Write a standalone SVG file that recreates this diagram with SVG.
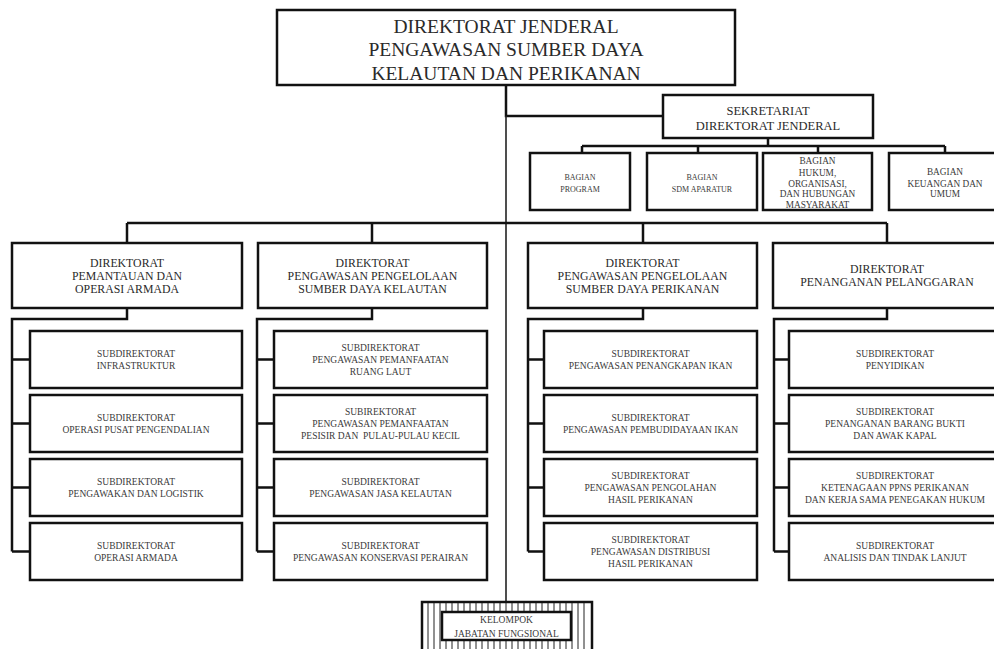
<svg xmlns="http://www.w3.org/2000/svg" width="994" height="649" viewBox="0 0 994 649">
<style>
.box{fill:#fff;stroke:#111;stroke-width:2.5}
.ln{fill:none;stroke:#111;stroke-width:2.5}
.thin{fill:none;stroke:#222;stroke-width:1.6}
text{font-family:"Liberation Serif","Times New Roman",serif;fill:#2a2a2a;text-anchor:middle}
.t1{font-size:19.5px}
.t2{font-size:12.5px}
.t3{font-size:11.8px}
.t4{font-size:9.5px;fill:#3a3a3a}
.t5{font-size:8px;fill:#3a3a3a}
.t6{font-size:9.3px;fill:#3a3a3a}
.hatch{stroke:#222;stroke-width:1}
</style>
<rect width="994" height="649" fill="#fff"/>
<g id="connectors">
<path class="ln" d="M506,85V116H663"/>
<path class="thin" d="M506,116V602"/>
<path class="ln" d="M768,138V146M582,146H945M582,146V153M698,146V153M818,146V153M945,146V153"/>
<path class="ln" d="M127,223H887M127,223V243M372,223V243M643,223V243M887,223V243"/>
<path class="ln" d="M127,308V319H12V551.5M12,359.5H30M12,423.5H30M12,487.5H30M12,551.5H30"/>
<path class="ln" d="M372,308V319H257V551.5M257,359.5H274M257,423.5H274M257,487.5H274M257,551.5H274"/>
<path class="ln" d="M643,308V319H528V551.5M528,359.5H544M528,423.5H544M528,487.5H544M528,551.5H544"/>
<path class="ln" d="M887,308V319H774V551.5M774,359.5H789M774,423.5H789M774,487.5H789M774,551.5H789"/>
</g>
<g id="dirjen">
<rect class="box" x="277" y="10" width="458" height="75" stroke-width="3"/>
<text class="t1" x="506" y="33">DIREKTORAT JENDERAL</text>
<text class="t1" x="506" y="56">PENGAWASAN SUMBER DAYA</text>
<text class="t1" x="506" y="80">KELAUTAN DAN PERIKANAN</text>
</g>
<g id="sekretariat">
<rect class="box" x="663" y="95" width="210" height="43"/>
<text class="t2" x="768" y="115">SEKRETARIAT</text>
<text class="t2" x="768" y="130">DIREKTORAT JENDERAL</text>
</g>
<g id="bagian-program">
<rect class="box" x="530" y="153" width="100" height="57"/>
<text class="t5" x="580" y="180">BAGIAN</text>
<text class="t5" x="580" y="192">PROGRAM</text>
</g>
<g id="bagian-sdm">
<rect class="box" x="647" y="153" width="110" height="57"/>
<text class="t5" x="702" y="180">BAGIAN</text>
<text class="t5" x="702" y="192">SDM APARATUR</text>
</g>
<g id="bagian-hukum">
<rect class="box" x="763" y="153" width="109" height="57"/>
<text class="t6" x="817.5" y="164">BAGIAN</text>
<text class="t6" x="817.5" y="176">HUKUM,</text>
<text class="t6" x="817.5" y="187">ORGANISASI,</text>
<text class="t6" x="817.5" y="197">DAN HUBUNGAN</text>
<text class="t6" x="817.5" y="208">MASYARAKAT</text>
</g>
<g id="bagian-keuangan">
<rect class="box" x="889" y="153" width="112" height="57"/>
<text class="t6" x="945" y="175">BAGIAN</text>
<text class="t6" x="945" y="187">KEUANGAN DAN</text>
<text class="t6" x="945" y="197">UMUM</text>
</g>
<g id="dir-pemantauan">
<rect class="box" x="12" y="243" width="230" height="65"/>
<text class="t3" x="127" y="267">DIREKTORAT</text>
<text class="t3" x="127" y="280">PEMANTAUAN DAN</text>
<text class="t3" x="127" y="293">OPERASI ARMADA</text>
</g>
<g id="dir-kelautan">
<rect class="box" x="258" y="243" width="229" height="65"/>
<text class="t3" x="372.5" y="267">DIREKTORAT</text>
<text class="t3" x="372.5" y="280">PENGAWASAN PENGELOLAAN</text>
<text class="t3" x="372.5" y="293">SUMBER DAYA KELAUTAN</text>
</g>
<g id="dir-perikanan">
<rect class="box" x="528" y="243" width="229" height="65"/>
<text class="t3" x="642.5" y="267">DIREKTORAT</text>
<text class="t3" x="642.5" y="280">PENGAWASAN PENGELOLAAN</text>
<text class="t3" x="642.5" y="293">SUMBER DAYA PERIKANAN</text>
</g>
<g id="dir-pelanggaran">
<rect class="box" x="773" y="243" width="228" height="65"/>
<text class="t3" x="887" y="273">DIREKTORAT</text>
<text class="t3" x="887" y="286">PENANGANAN PELANGGARAN</text>
</g>
<g id="sub-a1"><rect class="box" x="30" y="331" width="212" height="57"/>
<text class="t4" x="136" y="357">SUBDIREKTORAT</text><text class="t4" x="136" y="369">INFRASTRUKTUR</text></g>
<g id="sub-a2"><rect class="box" x="30" y="395" width="212" height="57"/>
<text class="t4" x="136" y="421">SUBDIREKTORAT</text><text class="t4" x="136" y="433">OPERASI PUSAT PENGENDALIAN</text></g>
<g id="sub-a3"><rect class="box" x="30" y="459" width="212" height="57"/>
<text class="t4" x="136" y="485">SUBDIREKTORAT</text><text class="t4" x="136" y="497">PENGAWAKAN DAN LOGISTIK</text></g>
<g id="sub-a4"><rect class="box" x="30" y="523" width="212" height="57"/>
<text class="t4" x="136" y="549">SUBDIREKTORAT</text><text class="t4" x="136" y="561">OPERASI ARMADA</text></g>
<g id="sub-b1"><rect class="box" x="274" y="331" width="213" height="57"/>
<text class="t4" x="380.5" y="351">SUBDIREKTORAT</text><text class="t4" x="380.5" y="363">PENGAWASAN PEMANFAATAN</text><text class="t4" x="380.5" y="375">RUANG LAUT</text></g>
<g id="sub-b2"><rect class="box" x="274" y="395" width="213" height="57"/>
<text class="t4" x="380.5" y="415">SUBIREKTORAT</text><text class="t4" x="380.5" y="427">PENGAWASAN PEMANFAATAN</text><text class="t4" x="380.5" y="439" xml:space="preserve">PESISIR DAN  PULAU-PULAU KECIL</text></g>
<g id="sub-b3"><rect class="box" x="274" y="459" width="213" height="57"/>
<text class="t4" x="380.5" y="485">SUBDIREKTORAT</text><text class="t4" x="380.5" y="497">PENGAWASAN JASA KELAUTAN</text></g>
<g id="sub-b4"><rect class="box" x="274" y="523" width="213" height="57"/>
<text class="t4" x="380.5" y="549">SUBDIREKTORAT</text><text class="t4" x="380.5" y="561">PENGAWASAN KONSERVASI PERAIRAN</text></g>
<g id="sub-c1"><rect class="box" x="544" y="331" width="213" height="57"/>
<text class="t4" x="650.5" y="357">SUBDIREKTORAT</text><text class="t4" x="650.5" y="369">PENGAWASAN PENANGKAPAN IKAN</text></g>
<g id="sub-c2"><rect class="box" x="544" y="395" width="213" height="57"/>
<text class="t4" x="650.5" y="421">SUBDIREKTORAT</text><text class="t4" x="650.5" y="433">PENGAWASAN PEMBUDIDAYAAN IKAN</text></g>
<g id="sub-c3"><rect class="box" x="544" y="459" width="213" height="57"/>
<text class="t4" x="650.5" y="479">SUBDIREKTORAT</text><text class="t4" x="650.5" y="491">PENGAWASAN PENGOLAHAN</text><text class="t4" x="650.5" y="503">HASIL PERIKANAN</text></g>
<g id="sub-c4"><rect class="box" x="544" y="523" width="213" height="57"/>
<text class="t4" x="650.5" y="543">SUBDIREKTORAT</text><text class="t4" x="650.5" y="555">PENGAWASAN DISTRIBUSI</text><text class="t4" x="650.5" y="567">HASIL PERIKANAN</text></g>
<g id="sub-d1"><rect class="box" x="789" y="331" width="212" height="57"/>
<text class="t4" x="895" y="357">SUBDIREKTORAT</text><text class="t4" x="895" y="369">PENYIDIKAN</text></g>
<g id="sub-d2"><rect class="box" x="789" y="395" width="212" height="57"/>
<text class="t4" x="895" y="415">SUBDIREKTORAT</text><text class="t4" x="895" y="427">PENANGANAN BARANG BUKTI</text><text class="t4" x="895" y="439">DAN AWAK KAPAL</text></g>
<g id="sub-d3"><rect class="box" x="789" y="459" width="212" height="57"/>
<text class="t4" x="895" y="479">SUBDIREKTORAT</text><text class="t4" x="895" y="491">KETENAGAAN PPNS PERIKANAN</text><text class="t4" x="895" y="503">DAN KERJA SAMA PENEGAKAN HUKUM</text></g>
<g id="sub-d4"><rect class="box" x="789" y="523" width="212" height="57"/>
<text class="t4" x="895" y="549">SUBDIREKTORAT</text><text class="t4" x="895" y="561">ANALISIS DAN TINDAK LANJUT</text></g>
<g id="kelompok">
<rect class="box" x="422" y="602" width="170" height="55"/>
<path class="hatch" d="M428,603V649M434,603V649M440,603V649M446,603V649M452,603V649M458,603V649M464,603V649M470,603V649M476,603V649M482,603V649M488,603V649M494,603V649M500,603V649M506,603V649M512,603V649M518,603V649M524,603V649M530,603V649M536,603V649M542,603V649M548,603V649M554,603V649M560,603V649M566,603V649M572,603V649M578,603V649M584,603V649"/>
<rect class="box" x="442" y="612" width="129" height="28" stroke-width="3"/>
<text class="t4" x="506.5" y="623">KELOMPOK</text>
<text class="t4" x="506.5" y="637">JABATAN FUNGSIONAL</text>
</g>
</svg>
